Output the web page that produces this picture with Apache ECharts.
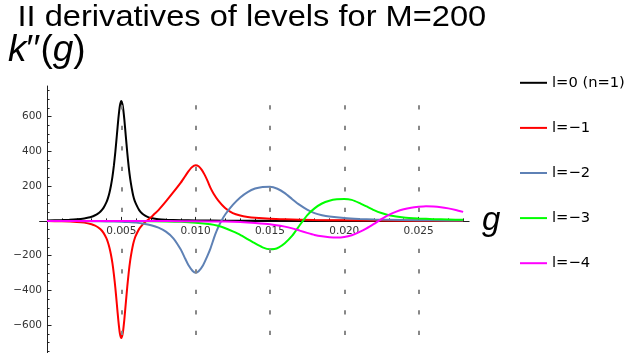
<!DOCTYPE html>
<html>
<head>
<meta charset="utf-8">
<script src="https://cdn.jsdelivr.net/npm/echarts@6/dist/echarts.min.js"></script>
<style>
html, body { margin: 0; padding: 0; background: #ffffff; }
#chart { width: 627px; height: 353px; }
</style>
</head>
<body>
<div id="chart"></div>
<script>
// Second derivatives k''(g) of the lowest levels, M = 200
const levelNames = ['l=0 (n=1)', 'l=\u22121', 'l=\u22122', 'l=\u22123', 'l=\u22124'];
const levelColors = ['#000000', '#ff0000', '#5e81b5', '#00ff00', '#ff00ff'];

// [g, k''(g)] samples for each level
const level0 = [
  [0, 2.6], [0.001, 4.5], [0.0015, 6.3], [0.002, 9.2], [0.0025, 14], [0.0028, 19], [0.003, 24],
  [0.0032, 31], [0.0034, 40], [0.0036, 54], [0.0038, 75], [0.004, 108], [0.0041, 131],
  [0.0042, 162], [0.0043, 202], [0.0044, 253], [0.0045, 319], [0.0046, 400], [0.0047, 494],
  [0.0048, 588], [0.0049, 662], [0.005, 690], [0.0051, 660], [0.0052, 585], [0.0053, 488],
  [0.0054, 392], [0.0055, 308], [0.0056, 240], [0.0057, 188], [0.0058, 145], [0.0059, 115],
  [0.006, 95], [0.0062, 62], [0.0064, 42], [0.0066, 30], [0.0068, 22], [0.007, 17],
  [0.0075, 10], [0.008, 7], [0.009, 4], [0.010, 2.5], [0.012, 1.2], [0.015, 0.5],
  [0.020, 0.3], [0.028, 0.1]
];
const level1 = [
  [0, -1], [0.001, -2.5], [0.002, -6], [0.0025, -10], [0.003, -19], [0.0032, -26], [0.0034, -35],
  [0.0036, -48], [0.0038, -69], [0.004, -101], [0.0041, -124], [0.0042, -154], [0.0043, -193],
  [0.0044, -243], [0.0045, -309], [0.0046, -388], [0.0047, -481], [0.0048, -574], [0.0049, -647],
  [0.005, -674], [0.0051, -644], [0.0052, -569], [0.0053, -473], [0.0054, -378], [0.0055, -294],
  [0.0056, -226], [0.0057, -174], [0.0058, -131], [0.0059, -101], [0.006, -80], [0.0062, -46],
  [0.0064, -24], [0.0066, -6], [0.0068, 7], [0.007, 21], [0.0072, 38], [0.0075, 62],
  [0.008, 112], [0.0085, 165], [0.009, 220], [0.0093, 258], [0.0095, 283], [0.0097, 305],
  [0.0099, 318], [0.010, 320], [0.0102, 314], [0.0104, 295], [0.0106, 266], [0.0108, 230],
  [0.011, 190], [0.0112, 158], [0.0115, 120], [0.012, 73], [0.0125, 45], [0.013, 31],
  [0.0135, 23], [0.014, 18], [0.015, 12], [0.016, 9], [0.018, 5], [0.020, 3], [0.024, 1.5], [0.028, 1]
];
const level2 = [
  [0, -0.5], [0.002, -1], [0.003, -2], [0.004, -3], [0.005, -5], [0.0055, -7], [0.006, -10],
  [0.0065, -16], [0.007, -25], [0.0075, -39], [0.008, -62], [0.0085, -100], [0.009, -165],
  [0.0093, -218], [0.0095, -252], [0.0098, -288], [0.010, -298], [0.0102, -290], [0.0105, -255],
  [0.0108, -200], [0.011, -158], [0.0113, -82], [0.0115, -40], [0.0117, -5], [0.012, 38],
  [0.0125, 92], [0.013, 135], [0.0135, 166], [0.014, 186], [0.0145, 195], [0.015, 196],
  [0.0155, 185], [0.016, 160], [0.0165, 125], [0.017, 92], [0.0175, 65], [0.018, 45],
  [0.0185, 33], [0.019, 25], [0.020, 16], [0.021, 11], [0.022, 8], [0.024, 5], [0.026, 3], [0.028, 2]
];
const level3 = [
  [0, 0], [0.004, -0.5], [0.006, -1], [0.008, -3], [0.009, -5], [0.010, -10], [0.011, -19],
  [0.0115, -28], [0.012, -42], [0.0125, -60], [0.013, -80], [0.0135, -105], [0.014, -130],
  [0.0145, -152], [0.015, -163], [0.0153, -162], [0.0156, -152], [0.016, -128], [0.0165, -85],
  [0.017, -25], [0.0175, 32], [0.018, 72], [0.0185, 100], [0.019, 116], [0.0195, 124],
  [0.020, 126], [0.0205, 121], [0.021, 104], [0.0215, 83], [0.022, 62], [0.0225, 45],
  [0.023, 33], [0.024, 20], [0.025, 14], [0.026, 10], [0.027, 8], [0.028, 6]
];
const level4 = [
  [0, 0], [0.006, -0.5], [0.008, -1], [0.010, -2], [0.012, -4], [0.013, -7], [0.014, -12],
  [0.015, -19], [0.016, -33], [0.0165, -43], [0.017, -56], [0.0175, -69], [0.018, -81],
  [0.0185, -89], [0.019, -94], [0.0195, -96], [0.020, -93], [0.0205, -83], [0.021, -65],
  [0.0215, -43], [0.022, -17], [0.0225, 10], [0.023, 34], [0.0235, 53], [0.024, 67],
  [0.0245, 76], [0.025, 81], [0.0255, 84], [0.026, 83], [0.0265, 79], [0.027, 72],
  [0.0275, 63], [0.028, 52]
];
const levels = [level0, level1, level2, level3, level4];

// Axes: ranges, ticks and labels
const xRange = [-0.0005, 0.0284];
const yRange = [-760, 776];
const xMajorTicks = [0.005, 0.010, 0.015, 0.020, 0.025];
const xMinorTicks = [0.001, 0.002, 0.003, 0.004, 0.006, 0.007, 0.008, 0.009, 0.011, 0.012,
  0.013, 0.014, 0.016, 0.017, 0.018, 0.019, 0.021, 0.022, 0.023, 0.024, 0.026, 0.027, 0.028];
const yMajorTicks = [-600, -400, -200, 200, 400, 600];
const yMinorTicks = [-750, -700, -650, -550, -500, -450, -350, -300, -250, -150, -100, -50,
  50, 100, 150, 250, 300, 350, 450, 500, 550, 650, 700, 750];

// Dashed vertical guides at the crossing points
const guideG = [0.005, 0.010, 0.015, 0.020, 0.025];
const guideSpan = [665, -656];

const titleText = 'II derivatives of levels for M=200';

const W = 627, H = 353;
const gridBox = { left: 39.6, right: 157.9, top: 86, bottom: 0 };
const plotW = W - gridBox.left - gridBox.right;
const plotH = H - gridBox.top - gridBox.bottom;
// the axes cross at g = 0, k'' = 0
const xZeroPx = gridBox.left + plotW * (0 - xRange[0]) / (xRange[1] - xRange[0]);
const yZeroPx = gridBox.top + plotH * (yRange[1] - 0) / (yRange[1] - yRange[0]);
const xAxisOffset = yZeroPx - (H - gridBox.bottom);
const yAxisOffset = gridBox.left - xZeroPx;

const font = 'Liberation Sans, Arial, Helvetica, sans-serif';
const tickFont = 'DejaVu Sans, Liberation Sans, sans-serif';
const axisColor = '#222222';
const labelColor = '#333333';

const chart = echarts.init(document.getElementById('chart'), null, { renderer: 'canvas' });

const baseX = {
  type: 'value', gridIndex: 0, min: xRange[0], max: xRange[1], position: 'bottom',
  offset: xAxisOffset, splitLine: { show: false }
};
const baseY = {
  type: 'value', gridIndex: 0, min: yRange[0], max: yRange[1], position: 'left',
  offset: yAxisOffset, splitLine: { show: false }
};

const option = {
  animation: false,
  backgroundColor: '#ffffff',
  graphic: [
    {
      type: 'text', x: 17.5, y: 3.8, scaleX: 1.125, silent: true,
      style: {
        text: titleText, fill: '#000',
        font: 'normal 29px ' + font,
        align: 'left', verticalAlign: 'top'
      }
    },
    {
      type: 'text', x: 8, y: 32, silent: true,
      style: {
        text: '{i|k}{n|\u2032\u2032(}{i|g}{n|)}',
        align: 'left', verticalAlign: 'top',
        rich: {
          i: { fontFamily: font, fontSize: 37, fontStyle: 'italic', fontWeight: 'normal', fill: '#000' },
          n: { fontFamily: font, fontSize: 37, fontWeight: 'normal', fill: '#000' }
        }
      }
    }
  ],
  legend: {
    orient: 'vertical', left: 520, top: 75.3, padding: 0,
    itemWidth: 27, itemHeight: 14, itemGap: 30.1,
    icon: 'path://M0,0H27V2H0Z',
    data: levelNames,
    textStyle: { fontFamily: tickFont, fontSize: 14.7, color: '#000' }
  },
  grid: Object.assign({ containLabel: false, outerBoundsMode: 'none' }, gridBox),
  xAxis: [
    Object.assign({}, baseX, {
      name: 'g', nameLocation: 'end', nameGap: 13,
      nameTextStyle: {
        fontFamily: font, fontSize: 33, fontStyle: 'italic', color: '#000',
        verticalAlign: 'middle', align: 'left', padding: [8, 0, 0, 0]
      },
      axisLine: { show: true, onZero: false, lineStyle: { color: axisColor, width: 1 } },
      axisTick: { show: true, inside: true, length: 4, customValues: xMajorTicks, lineStyle: { color: axisColor } },
      axisLabel: {
        show: true, customValues: xMajorTicks, margin: 5,
        fontFamily: tickFont, fontSize: 10.5, color: labelColor,
        formatter: v => v.toFixed(3)
      }
    }),
    Object.assign({}, baseX, {
      axisLine: { show: false, onZero: false },
      axisTick: { show: true, inside: true, length: 2.5, customValues: xMinorTicks, lineStyle: { color: axisColor } },
      axisLabel: { show: false }
    })
  ],
  yAxis: [
    Object.assign({}, baseY, {
      axisLine: { show: true, onZero: false, lineStyle: { color: axisColor, width: 1 } },
      axisTick: { show: true, inside: true, length: 4.5, customValues: yMajorTicks, lineStyle: { color: axisColor } },
      axisLabel: {
        show: true, customValues: yMajorTicks, margin: 5,
        fontFamily: tickFont, fontSize: 10.5, color: labelColor,
        formatter: v => String(v).replace('-', '\u2212')
      }
    }),
    Object.assign({}, baseY, {
      axisLine: { show: false, onZero: false },
      axisTick: { show: true, inside: true, length: 2.5, customValues: yMinorTicks, lineStyle: { color: axisColor } },
      axisLabel: { show: false }
    })
  ],
  series: levels.map((d, i) => ({
    name: levelNames[i],
    type: 'line',
    xAxisIndex: 0, yAxisIndex: 0,
    data: d,
    symbol: 'none', showSymbol: false,
    smooth: 0.2,
    clip: true,
    z: 2,
    lineStyle: { width: 2, color: levelColors[i] },
    itemStyle: { color: levelColors[i] }
  })).concat([{
    name: 'guides',
    type: 'line',
    xAxisIndex: 0, yAxisIndex: 0,
    data: [],
    z: 5,
    markLine: {
      silent: true, symbol: 'none', animation: false,
      label: { show: false },
      lineStyle: { type: [4.3, 16.2], color: '#888888', width: 2 },
      data: guideG.map(g => [{ coord: [g, guideSpan[0]] }, { coord: [g, guideSpan[1]] }])
    }
  }])
};

chart.setOption(option);
</script>
</body>
</html>
